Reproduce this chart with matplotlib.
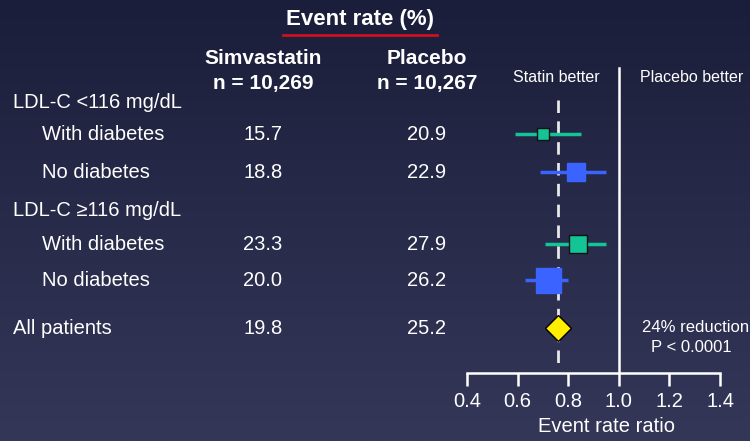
import numpy as np
import matplotlib
matplotlib.use("Agg")
import matplotlib.pyplot as plt
from matplotlib.lines import Line2D

# ---- data ----
row_labels = ["LDL-C <116 mg/dL", "With diabetes", "No diabetes",
              "LDL-C \u2265116 mg/dL", "With diabetes", "No diabetes", "All patients"]
row_indent = [False, True, True, False, True, True, False]
simva_rate = ["", "15.7", "18.8", "", "23.3", "20.0", "19.8"]
placebo_rate = ["", "20.9", "22.9", "", "27.9", "26.2", "25.2"]

ratio = [None, 0.70, 0.83, None, 0.84, 0.72, 0.76]
ci_low = [None, 0.59, 0.69, None, 0.71, 0.63, None]
ci_high = [None, 0.85, 0.95, None, 0.95, 0.80, None]
diabetes_group = [None, True, False, None, True, False, None]
weight = [None, 8.5, 13, None, 13, 18, None]

x_ticks = [0.4, 0.6, 0.8, 1.0, 1.2, 1.4]
overall_ratio = 0.76

W, H = 750, 441
fig = plt.figure(figsize=(W / 100, H / 100), dpi=100)
plt.rcParams['font.family'] = ['Liberation Sans', 'DejaVu Sans']

# background gradient
bg = fig.add_axes([0, 0, 1, 1], zorder=-10)
top = np.array([27, 30, 58]) / 255
bot = np.array([53, 55, 89]) / 255
t = np.linspace(0, 1, 256)[:, None]
grad = (top[None, :] * (1 - t) + bot[None, :] * t)[:, None, :]
bg.imshow(grad, aspect='auto', extent=[0, 1, 0, 1])
bg.axis('off')

def fx(x):
    return x / W

def fy(y):
    return 1 - y / H

WHITE = 'white'
GREEN = '#12c496'
BLUE = '#3a63ff'
FS = 14.5

# row vertical positions (pixels from top)
row_y = [103, 134, 172, 210, 244, 280, 328]

# headers
fig.text(fx(360), fy(19), "Event rate (%)", color=WHITE, fontsize=16,
         fontweight='bold', ha='center', va='center')
fig.add_artist(Line2D([fx(283), fx(437)], [fy(35), fy(35)], color='#cc1122', lw=2))
for cx, name, n in [(263, "Simvastatin", "n = 10,269"), (427, "Placebo", "n = 10,267")]:
    fig.text(fx(cx), fy(59), name, color=WHITE, fontsize=15, fontweight='bold',
             ha='center', va='center')
    fig.text(fx(cx), fy(83), n, color=WHITE, fontsize=15, fontweight='bold',
             ha='center', va='center')

# table rows
for i, lab in enumerate(row_labels):
    y = row_y[i]
    fig.text(fx(42 if row_indent[i] else 13), fy(y), lab, color=WHITE,
             fontsize=FS, ha='left', va='center')
    if simva_rate[i]:
        fig.text(fx(263), fy(y), simva_rate[i], color=WHITE, fontsize=FS,
                 ha='center', va='center')
        fig.text(fx(427), fy(y), placebo_rate[i], color=WHITE, fontsize=FS,
                 ha='center', va='center')

# forest plot axes: y in pixel rows
x0_px, x1_px = 467, 720
ax = fig.add_axes([fx(x0_px), 0, (x1_px - x0_px) / W, 1])
ax.set_xlim(0.4, 1.4)
ax.set_ylim(H, 0)
ax.patch.set_alpha(0)
for s in ['top', 'right', 'left']:
    ax.spines[s].set_visible(False)
ax.spines['bottom'].set_position(('data', 373))
ax.spines['bottom'].set_color(WHITE)
ax.spines['bottom'].set_linewidth(1.8)
ax.spines['bottom'].set_bounds(0.4, 1.4)
ax.set_yticks([])
ax.set_xticks(x_ticks)
ax.set_xticklabels([f"{v:.1f}" for v in x_ticks])
ax.tick_params(axis='x', colors=WHITE, length=9, width=1.8, direction='out',
               labelsize=FS, pad=5)
ax.set_xlabel("Event rate ratio", color=WHITE, fontsize=FS, va='center')
ax.xaxis.set_label_coords(0.55, fy(427), transform=ax.transAxes)

# reference lines
ax.plot([1.0, 1.0], [68, 373], color=WHITE, lw=1.8, zorder=2)
ax.plot([overall_ratio, overall_ratio], [100, 366], color='#e8e8e8', lw=2,
        dashes=(4.5, 3), zorder=2)

for i in range(len(row_labels)):
    if ratio[i] is None:
        continue
    y = row_y[i]
    if ci_low[i] is None:
        ax.plot([ratio[i]], [y], marker='D', ms=13.5, color='#ffee00',
                mec='black', mew=1, zorder=5, clip_on=False)
        continue
    col = GREEN if diabetes_group[i] else BLUE
    ax.plot([ci_low[i], ci_high[i]], [y, y], color=col, lw=2.5, zorder=3,
            solid_capstyle='butt')
    ax.plot([ratio[i]], [y], marker='s', ms=weight[i], color=col,
            mec='#111111' if diabetes_group[i] else col, mew=1, zorder=4)

ax.text(0.752, 77, "Statin better", color=WHITE, fontsize=11.5,
        ha='center', va='center')
ax.text(1.286, 77, "Placebo better", color=WHITE, fontsize=11.5,
        ha='center', va='center', clip_on=False)
ax.text(1.305, 327, "24% reduction", color=WHITE, fontsize=12,
        ha='center', va='center', clip_on=False)
ax.text(1.285, 347, "P < 0.0001", color=WHITE, fontsize=12,
        ha='center', va='center', clip_on=False)

fig.savefig("out.png", dpi=100)
